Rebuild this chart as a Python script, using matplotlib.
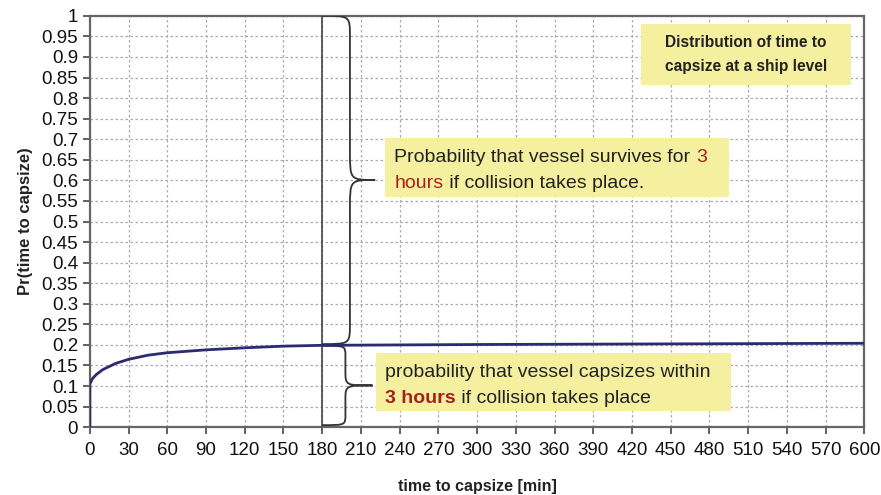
import numpy as np
import matplotlib.pyplot as plt
from matplotlib.path import Path
from matplotlib.patches import PathPatch, Rectangle

plt.rcParams['font.family'] = ['Liberation Sans', 'DejaVu Sans']

# time to capsize [min] and cumulative probability
t_min = [0, 0, 2, 5, 10, 20, 30, 45, 60, 90, 120, 150, 180, 240, 300, 400, 500, 600]
pr_capsize = [0.0, 0.105, 0.118, 0.128, 0.140, 0.155, 0.165, 0.175, 0.181, 0.188,
              0.193, 0.197, 0.199, 0.200, 0.201, 0.202, 0.203, 0.204]

x_ticks = list(range(0, 601, 30))
y_ticks = [round(v * 0.05, 2) for v in range(21)]
y_ticklabels = ['0', '0.05', '0.1', '0.15', '0.2', '0.25', '0.3', '0.35', '0.4', '0.45',
                '0.5', '0.55', '0.6', '0.65', '0.7', '0.75', '0.8', '0.85', '0.9', '0.95', '1']

t_ref = 180        # 3 hours
pr_ref = 0.2

YELLOW = '#f5f0a0'
RED = '#a8201e'
TXT = '#222222'


def brace(ax, x0, xm, xt, ytop, ybot, r, rt):
    ymid = (ytop + ybot) / 2
    verts = [(x0, ytop),
             (xm, ytop), (xm, ytop), (xm, ytop - r),
             (xm, ymid + rt),
             (xm, ymid), (xm, ymid), (xt, ymid),
             (xm, ymid), (xm, ymid), (xm, ymid - rt),
             (xm, ybot + r),
             (xm, ybot), (xm, ybot), (x0, ybot)]
    codes = [Path.MOVETO,
             Path.CURVE4, Path.CURVE4, Path.CURVE4,
             Path.LINETO,
             Path.CURVE4, Path.CURVE4, Path.CURVE4,
             Path.CURVE4, Path.CURVE4, Path.CURVE4,
             Path.LINETO,
             Path.CURVE4, Path.CURVE4, Path.CURVE4]
    ax.add_patch(PathPatch(Path(verts, codes), fill=False, ec='#333333', lw=1.3, zorder=4))


def mixed_line(ax, x, y, parts, size):
    prev = None
    for txt, col, wt in parts:
        if prev is None:
            prev = ax.text(x, y, txt, color=col, fontsize=size, fontweight=wt,
                           ha='left', va='bottom', zorder=6)
        else:
            prev = ax.annotate(txt, xy=(1, 0), xycoords=prev, color=col, fontsize=size,
                               fontweight=wt, ha='left', va='bottom', zorder=6)


fig = plt.figure(figsize=(8.81, 4.95), dpi=100)
ax = fig.add_axes([0.102, 0.137, 0.879, 0.831])

ax.plot(t_min, pr_capsize, color='#2b2b70', lw=2, zorder=5)
ax.axvline(t_ref, color='#444444', lw=1.2, zorder=4)

ax.set_xlim(0, 600)
ax.set_ylim(0, 1)
ax.set_xticks(x_ticks)
ax.set_yticks(y_ticks)
ax.set_yticklabels(y_ticklabels)
ax.tick_params(labelsize=13.5, colors='#555555', labelcolor='#111111', direction='out',
               length=5, width=1.3)
ax.tick_params(axis='x', pad=6)
ax.grid(True, color='#aaaaaa', linestyle=(0, (2, 2)), lw=0.9)
for s in ax.spines.values():
    s.set_color('#666666')
    s.set_linewidth(1.6)

ax.set_xlabel('time to capsize [min]', fontsize=11.5, fontweight='bold', color=TXT, labelpad=14)
ax.set_ylabel('Pr(time to capsize)', fontsize=12, fontweight='bold', color=TXT, labelpad=6)

# braces
brace(ax, t_ref, 201.5, 221, 1.0, pr_ref + 0.002, 0.05, 0.07)
brace(ax, t_ref, 198, 219, pr_ref - 0.002, 0.005, 0.025, 0.035)

# boxes
ax.add_patch(Rectangle((228.5, 0.56), 267, 0.143, fc=YELLOW, ec='none', zorder=3))
ax.add_patch(Rectangle((221.5, 0.039), 275, 0.141, fc=YELLOW, ec='none', zorder=3))
ax.add_patch(Rectangle((427, 0.832), 163, 0.148, fc=YELLOW, ec='none', zorder=3))

fs = 14
mixed_line(ax, 236, 0.634, [('Probability that vessel survives for ', TXT, 'normal'),
                            ('3', RED, 'normal')], fs)
mixed_line(ax, 236, 0.571, [('hours', RED, 'normal'),
                            (' if collision takes place.', TXT, 'normal')], fs)

mixed_line(ax, 229, 0.112, [('probability that vessel capsizes within', TXT, 'normal')], fs)
mixed_line(ax, 229, 0.049, [('3 hours', RED, 'bold'),
                            (' if collision takes place', TXT, 'normal')], fs)

ax.text(508.5, 0.906, 'Distribution of time to\ncapsize at a ship level', color=TXT, fontsize=11.2,
        fontweight='bold', ha='center', va='center', linespacing=1.75, zorder=6)

fig.savefig('out.png', dpi=100)
